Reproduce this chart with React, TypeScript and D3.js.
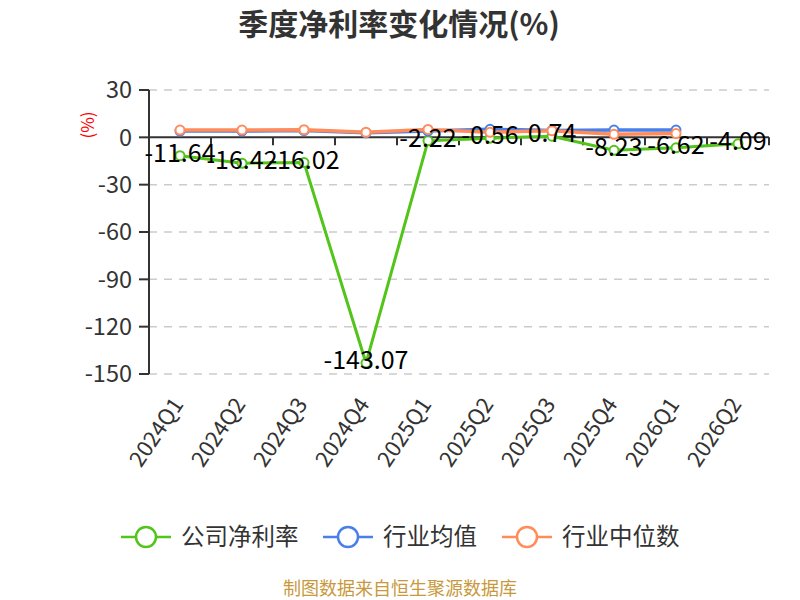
import React from 'react';
import * as d3 from 'd3';

const categories = ['2024Q1', '2024Q2', '2024Q3', '2024Q4', '2025Q1', '2025Q2', '2025Q3', '2025Q4', '2026Q1', '2026Q2'];
const companyRate = [-11.64, -16.42, -16.02, -143.07, -2.22, -0.56, 0.74, -8.23, -6.62, -4.09];
const industryAvg = [4.0, 4.0, 4.3, 2.9, 4.0, 5.1, 4.4, 4.6, 4.6];
const industryMedian = [4.6, 4.6, 4.8, 3.2, 5.0, 3.2, 4.2, 1.9, 2.5];
const yTicks = [30, 0, -30, -60, -90, -120, -150];

const seriesNames = ['公司净利率', '行业均值', '行业中位数'];
const seriesColors = ['#52c41a', '#4a7fe8', '#ff8c5a'];

const FONT = '"Noto Sans CJK SC", "Noto Sans", sans-serif';

const App: React.FC = () => {
  const width = 800, height = 600;
  const x = d3.scaleBand<string>().domain(categories).range([149, 769]);
  const y = d3.scaleLinear().domain([-150, 30]).range([374, 90]);
  const cx = (i: number) => (x(categories[i]) as number) + x.bandwidth() / 2;

  const line = d3.line<number>().x((_, i) => cx(i)).y(d => y(d));
  const allSeries = [companyRate, industryAvg, industryMedian];

  const legendX = [146, 348, 527];

  return (
    <div style={{ position: 'fixed', left: 0, top: 0 }}>
      <svg width={width} height={height} style={{ fontFamily: FONT, background: '#fff' }}>
        <text x={399} y={35} textAnchor="middle" fontSize={30} fontWeight="bold" fill="#333">季度净利率变化情况(%)</text>

        {/* grid */}
        {yTicks.filter(t => t !== 0).map(t => (
          <line key={t} x1={149} x2={769} y1={y(t)} y2={y(t)} stroke="#ccc" strokeDasharray="8,7" strokeWidth={1.5} />
        ))}

        {/* y axis */}
        <line x1={149} x2={149} y1={y(30)} y2={y(-150)} stroke="#333" strokeWidth={2} />
        {yTicks.map(t => (
          <g key={t}>
            <line x1={139} x2={149} y1={y(t)} y2={y(t)} stroke="#333" strokeWidth={2} />
            <text x={132} y={y(t)} dy="0.35em" textAnchor="end" fontSize={23.5} fill="#333">{t}</text>
          </g>
        ))}
        <text transform={`translate(88,125) rotate(-90)`} textAnchor="middle" dy="0.35em" fontSize={17} fill="red">(%)</text>

        {/* x axis at zero */}
        <line x1={149} x2={769} y1={y(0)} y2={y(0)} stroke="#333" strokeWidth={2} />
        {d3.range(categories.length + 1).map(i => {
          const px = 149 + i * x.bandwidth();
          return <line key={i} x1={px} x2={px} y1={y(0)} y2={y(0) + 8} stroke="#333" strokeWidth={2} />;
        })}
        {categories.map((c, i) => (
          <text key={c} transform={`translate(${cx(i) - 2},${400}) rotate(-56)`} textAnchor="end" dy="0.35em" fontSize={22} fill="#333">{c}</text>
        ))}

        {/* series */}
        {allSeries.map((s, k) => (
          <g key={k}>
            <path d={line(s) as string} fill="none" stroke={seriesColors[k]} strokeWidth={k === 0 ? 3 : 3.5} />
            {s.map((v, i) => (
              <circle key={i} cx={cx(i)} cy={y(v)} r={4.5} fill="#fff" stroke={seriesColors[k]} strokeWidth={2} />
            ))}
          </g>
        ))}

        {/* data labels */}
        {companyRate.map((v, i) => (
          <text key={i} x={cx(i)} y={y(v) + 6} textAnchor="middle" fontSize={25} fill="#000">{v}</text>
        ))}

        {/* legend */}
        {seriesNames.map((n, k) => (
          <g key={n}>
            <line x1={legendX[k] - 25} x2={legendX[k] + 25} y1={537} y2={537} stroke={seriesColors[k]} strokeWidth={2.5} />
            <circle cx={legendX[k]} cy={537} r={10} fill="#fff" stroke={seriesColors[k]} strokeWidth={2.5} />
            <text x={legendX[k] + 35} y={537} dy="0.35em" fontSize={23.5} fill="#333">{n}</text>
          </g>
        ))}

        <text x={400} y={589} dy="0.35em" textAnchor="middle" fontSize={18} fill="#c8993c">制图数据来自恒生聚源数据库</text>
      </svg>
    </div>
  );
};

export default App;
